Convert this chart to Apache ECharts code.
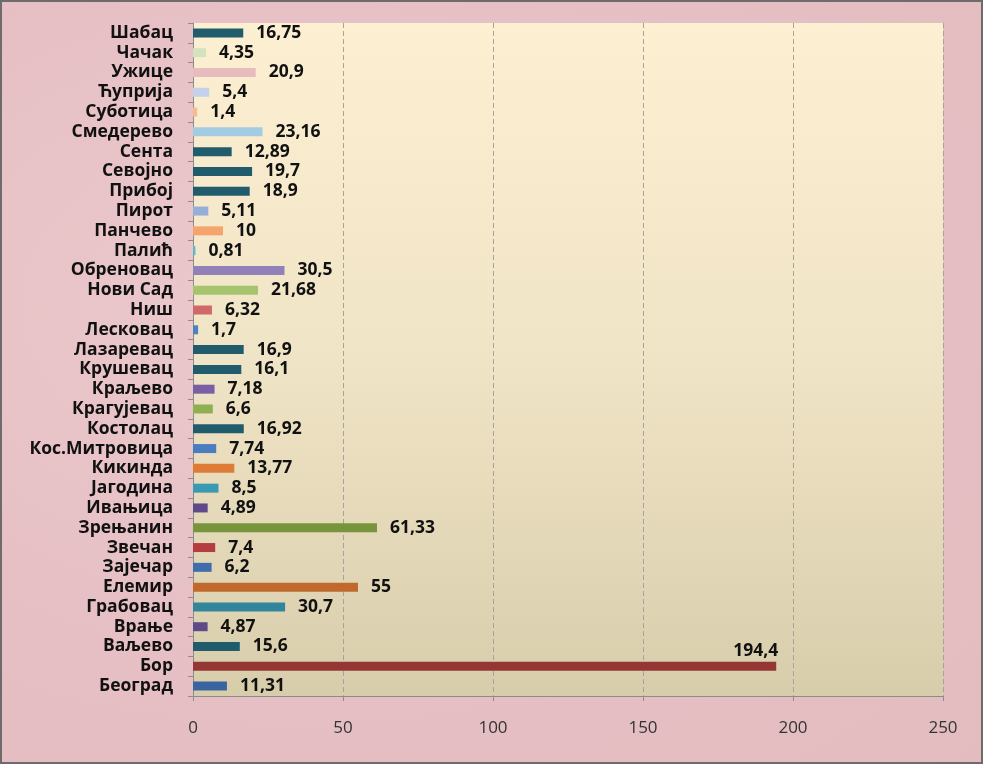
<!DOCTYPE html>
<html>
<head>
<meta charset="utf-8">
<script src="https://cdn.jsdelivr.net/npm/echarts@6/dist/echarts.min.js"></script>
<style>
  html, body { margin: 0; padding: 0; }
  body {
    width: 983px; height: 764px; box-sizing: border-box;
    border: 2px solid #6f6a6b;
    background: radial-gradient(ellipse at 30% 40%, #ebc9cc 0%, #e6c0c4 50%, #e3bcc0 100%);
  }
  #chart { width: 979px; height: 760px; }
</style>
</head>
<body>
<div id="chart"></div>
<script>
// bottom to top, as in the picture
var cities = ['Београд', 'Бор', 'Ваљево', 'Врање', 'Грабовац', 'Елемир', 'Зајечар', 'Звечан',
  'Зрењанин', 'Ивањица', 'Јагодина', 'Кикинда', 'Кос.Митровица', 'Костолац', 'Крагујевац',
  'Краљево', 'Крушевац', 'Лазаревац', 'Лесковац', 'Ниш', 'Нови Сад', 'Обреновац', 'Палић',
  'Панчево', 'Пирот', 'Прибој', 'Севојно', 'Сента', 'Смедерево', 'Суботица', 'Ћуприја',
  'Ужице', 'Чачак', 'Шабац'];
var values = [11.31, 194.4, 15.6, 4.87, 30.7, 55, 6.2, 7.4,
  61.33, 4.89, 8.5, 13.77, 7.74, 16.92, 6.6,
  7.18, 16.1, 16.9, 1.7, 6.32, 21.68, 30.5, 0.81,
  10, 5.11, 18.9, 19.7, 12.89, 23.16, 1.4, 5.4,
  20.9, 4.35, 16.75];
var barColors = ['#3a64a0', '#943634', '#215c6c', '#5e4a88', '#33859c', '#c0692c', '#3f6eac', '#b43e3e',
  '#77953c', '#5f4a8a', '#3b9ab3', '#de7b36', '#4a7cc0', '#215c6c', '#8fb052',
  '#7a5fa3', '#215c6c', '#215c6c', '#4f81bd', '#d0696a', '#a6c46e', '#9281b8', '#5fb8c8',
  '#f4a46c', '#95afd8', '#215c6c', '#215c6c', '#215c6c', '#a3cce2', '#f8bb90', '#c3d2ea',
  '#e6bcbc', '#d4e2c0', '#215c6c'];
var xTicks = [0, 50, 100, 150, 200, 250];

var chart = echarts.init(document.getElementById('chart'));

function fmt(v) {
  return String(v).replace('.', ',');
}

var data = values.map(function (v, i) {
  var item = { value: v, itemStyle: { color: barColors[i] } };
  if (cities[i] === 'Бор') {
    item.label = { position: 'insideRight', distance: 0, offset: [2, -15] };
  }
  return item;
});

var option = {
  grid: {
    left: 191, right: 38, top: 21, bottom: 66,
    show: true,
    borderWidth: 0,
    backgroundColor: new echarts.graphic.LinearGradient(0, 0, 0, 1, [
      { offset: 0, color: '#fdefd2' },
      { offset: 0.5, color: '#f0e4c6' },
      { offset: 1, color: '#d8cdab' }
    ])
  },
  xAxis: {
    type: 'value',
    min: xTicks[0],
    max: xTicks[xTicks.length - 1],
    interval: 50,
    axisLine: { show: true, lineStyle: { color: '#8c8c8c', width: 1 } },
    axisTick: { show: true, length: 5, lineStyle: { color: '#8c8c8c' } },
    axisLabel: {
      margin: 24,
      color: '#333',
      fontFamily: 'Open Sans',
      fontSize: 17
    },
    splitLine: { show: true, lineStyle: { color: '#a9a29a', type: [5, 3], width: 1 } }
  },
  yAxis: {
    type: 'category',
    data: cities,
    axisLine: { show: true, lineStyle: { color: '#8c8c8c', width: 1 } },
    axisTick: { show: true, length: 5, lineStyle: { color: '#8c8c8c' } },
    axisLabel: {
      interval: 0,
      margin: 20,
      color: '#111',
      fontFamily: 'Open Sans',
      fontWeight: 'bold',
      fontSize: 17.5
    }
  },
  series: [{
    type: 'bar',
    data: data,
    barWidth: 9,
    label: {
      show: true,
      position: 'right',
      distance: 13,
      color: '#111',
      fontFamily: 'Open Sans',
      fontWeight: 'bold',
      fontSize: 17.5,
      formatter: function (p) { return fmt(p.value); }
    }
  }],
  animation: false
};

chart.setOption(option);
</script>
</body>
</html>
